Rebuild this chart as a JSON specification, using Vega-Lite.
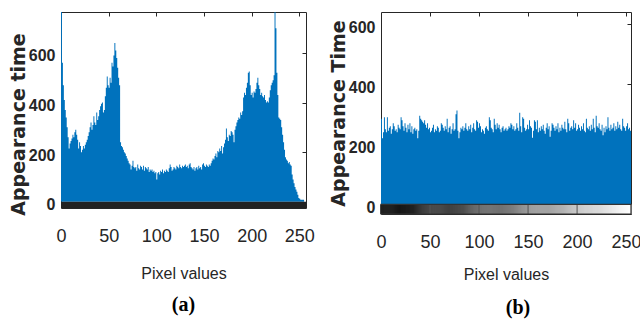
{
  "$schema": "https://vega.github.io/schema/vega-lite/v6.json",
  "background": "white",
  "padding": {"left": 8, "top": 11, "right": 5, "bottom": 5},
  "bounds": "flush",
  "spacing": 75,
  "config": {
    "view": {"stroke": "#262626", "strokeWidth": 1},
    "font": "Liberation Sans, Arial, sans-serif",
    "axis": {"labelColor": "#262626", "titleColor": "#262626", "grid": false, "domain": false}
  },
  "datasets": {
    "a": [
      {"pixel":0,"count":765},{"pixel":1,"count":560},{"pixel":2,"count":470},{"pixel":3,"count":410},{"pixel":4,"count":370},{"pixel":5,"count":340},{"pixel":6,"count":300},{"pixel":7,"count":260},{"pixel":8,"count":215},{"pixel":9,"count":235},
      {"pixel":10,"count":245},{"pixel":11,"count":255},{"pixel":12,"count":270},{"pixel":13,"count":260},{"pixel":14,"count":280},{"pixel":15,"count":290},{"pixel":16,"count":270},{"pixel":17,"count":250},{"pixel":18,"count":215},{"pixel":19,"count":240},
      {"pixel":20,"count":225},{"pixel":21,"count":200},{"pixel":22,"count":210},{"pixel":23,"count":225},{"pixel":24,"count":215},{"pixel":25,"count":230},{"pixel":26,"count":240},{"pixel":27,"count":250},{"pixel":28,"count":265},{"pixel":29,"count":280},
      {"pixel":30,"count":300},{"pixel":31,"count":320},{"pixel":32,"count":290},{"pixel":33,"count":310},{"pixel":34,"count":345},{"pixel":35,"count":320},{"pixel":36,"count":310},{"pixel":37,"count":360},{"pixel":38,"count":330},{"pixel":39,"count":345},
      {"pixel":40,"count":370},{"pixel":41,"count":385},{"pixel":42,"count":395},{"pixel":43,"count":400},{"pixel":44,"count":360},{"pixel":45,"count":370},{"pixel":46,"count":425},{"pixel":47,"count":460},{"pixel":48,"count":505},{"pixel":49,"count":470},
      {"pixel":50,"count":460},{"pixel":51,"count":500},{"pixel":52,"count":480},{"pixel":53,"count":560},{"pixel":54,"count":545},{"pixel":55,"count":590},{"pixel":56,"count":640},{"pixel":57,"count":610},{"pixel":58,"count":580},{"pixel":59,"count":540},
      {"pixel":60,"count":500},{"pixel":61,"count":470},{"pixel":62,"count":240},{"pixel":63,"count":225},{"pixel":64,"count":220},{"pixel":65,"count":210},{"pixel":66,"count":200},{"pixel":67,"count":195},{"pixel":68,"count":185},{"pixel":69,"count":175},
      {"pixel":70,"count":165},{"pixel":71,"count":155},{"pixel":72,"count":150},{"pixel":73,"count":130},{"pixel":74,"count":145},{"pixel":75,"count":165},{"pixel":76,"count":140},{"pixel":77,"count":135},{"pixel":78,"count":140},{"pixel":79,"count":125},
      {"pixel":80,"count":150},{"pixel":81,"count":135},{"pixel":82,"count":130},{"pixel":83,"count":145},{"pixel":84,"count":140},{"pixel":85,"count":130},{"pixel":86,"count":145},{"pixel":87,"count":125},{"pixel":88,"count":140},{"pixel":89,"count":135},
      {"pixel":90,"count":130},{"pixel":91,"count":140},{"pixel":92,"count":120},{"pixel":93,"count":130},{"pixel":94,"count":125},{"pixel":95,"count":130},{"pixel":96,"count":120},{"pixel":97,"count":125},{"pixel":98,"count":115},{"pixel":99,"count":120},
      {"pixel":100,"count":90},{"pixel":101,"count":115},{"pixel":102,"count":120},{"pixel":103,"count":110},{"pixel":104,"count":125},{"pixel":105,"count":120},{"pixel":106,"count":130},{"pixel":107,"count":115},{"pixel":108,"count":125},{"pixel":109,"count":120},
      {"pixel":110,"count":130},{"pixel":111,"count":125},{"pixel":112,"count":120},{"pixel":113,"count":135},{"pixel":114,"count":150},{"pixel":115,"count":140},{"pixel":116,"count":125},{"pixel":117,"count":130},{"pixel":118,"count":140},{"pixel":119,"count":135},
      {"pixel":120,"count":130},{"pixel":121,"count":145},{"pixel":122,"count":140},{"pixel":123,"count":135},{"pixel":124,"count":150},{"pixel":125,"count":140},{"pixel":126,"count":135},{"pixel":127,"count":145},{"pixel":128,"count":140},{"pixel":129,"count":145},
      {"pixel":130,"count":150},{"pixel":131,"count":140},{"pixel":132,"count":145},{"pixel":133,"count":135},{"pixel":134,"count":150},{"pixel":135,"count":155},{"pixel":136,"count":140},{"pixel":137,"count":135},{"pixel":138,"count":130},{"pixel":139,"count":140},
      {"pixel":140,"count":125},{"pixel":141,"count":135},{"pixel":142,"count":140},{"pixel":143,"count":130},{"pixel":144,"count":145},{"pixel":145,"count":135},{"pixel":146,"count":140},{"pixel":147,"count":130},{"pixel":148,"count":150},{"pixel":149,"count":155},
      {"pixel":150,"count":145},{"pixel":151,"count":140},{"pixel":152,"count":150},{"pixel":153,"count":145},{"pixel":154,"count":140},{"pixel":155,"count":150},{"pixel":156,"count":145},{"pixel":157,"count":155},{"pixel":158,"count":165},{"pixel":159,"count":175},
      {"pixel":160,"count":170},{"pixel":161,"count":185},{"pixel":162,"count":195},{"pixel":163,"count":180},{"pixel":164,"count":205},{"pixel":165,"count":200},{"pixel":166,"count":215},{"pixel":167,"count":205},{"pixel":168,"count":225},{"pixel":169,"count":195},
      {"pixel":170,"count":220},{"pixel":171,"count":235},{"pixel":172,"count":250},{"pixel":173,"count":295},{"pixel":174,"count":260},{"pixel":175,"count":245},{"pixel":176,"count":270},{"pixel":177,"count":265},{"pixel":178,"count":285},{"pixel":179,"count":280},
      {"pixel":180,"count":270},{"pixel":181,"count":240},{"pixel":182,"count":290},{"pixel":183,"count":305},{"pixel":184,"count":320},{"pixel":185,"count":330},{"pixel":186,"count":340},{"pixel":187,"count":335},{"pixel":188,"count":360},{"pixel":189,"count":350},
      {"pixel":190,"count":365},{"pixel":191,"count":420},{"pixel":192,"count":440},{"pixel":193,"count":430},{"pixel":194,"count":460},{"pixel":195,"count":480},{"pixel":196,"count":520},{"pixel":197,"count":525},{"pixel":198,"count":470},{"pixel":199,"count":430},
      {"pixel":200,"count":440},{"pixel":201,"count":420},{"pixel":202,"count":445},{"pixel":203,"count":440},{"pixel":204,"count":455},{"pixel":205,"count":480},{"pixel":206,"count":500},{"pixel":207,"count":470},{"pixel":208,"count":455},{"pixel":209,"count":430},
      {"pixel":210,"count":440},{"pixel":211,"count":425},{"pixel":212,"count":420},{"pixel":213,"count":430},{"pixel":214,"count":410},{"pixel":215,"count":400},{"pixel":216,"count":405},{"pixel":217,"count":400},{"pixel":218,"count":420},{"pixel":219,"count":450},
      {"pixel":220,"count":470},{"pixel":221,"count":480},{"pixel":222,"count":490},{"pixel":223,"count":510},{"pixel":224,"count":765},{"pixel":225,"count":700},{"pixel":226,"count":520},{"pixel":227,"count":430},{"pixel":228,"count":340},{"pixel":229,"count":335},
      {"pixel":230,"count":330},{"pixel":231,"count":300},{"pixel":232,"count":270},{"pixel":233,"count":240},{"pixel":234,"count":210},{"pixel":235,"count":180},{"pixel":236,"count":170},{"pixel":237,"count":165},{"pixel":238,"count":155},{"pixel":239,"count":160},
      {"pixel":240,"count":150},{"pixel":241,"count":145},{"pixel":242,"count":110},{"pixel":243,"count":90},{"pixel":244,"count":75},{"pixel":245,"count":60},{"pixel":246,"count":50},{"pixel":247,"count":40},{"pixel":248,"count":28},{"pixel":249,"count":15},
      {"pixel":250,"count":12},{"pixel":251,"count":8},{"pixel":252,"count":8},{"pixel":253,"count":8},{"pixel":254,"count":8},{"pixel":255,"count":8}
    ],
    "b": [
      {"pixel":0,"count":285},{"pixel":1,"count":220},{"pixel":2,"count":240},{"pixel":3,"count":290},{"pixel":4,"count":250},{"pixel":5,"count":240},{"pixel":6,"count":290},{"pixel":7,"count":245},{"pixel":8,"count":255},{"pixel":9,"count":260},
      {"pixel":10,"count":235},{"pixel":11,"count":250},{"pixel":12,"count":270},{"pixel":13,"count":260},{"pixel":14,"count":245},{"pixel":15,"count":250},{"pixel":16,"count":240},{"pixel":17,"count":265},{"pixel":18,"count":255},{"pixel":19,"count":250},
      {"pixel":20,"count":290},{"pixel":21,"count":280},{"pixel":22,"count":260},{"pixel":23,"count":245},{"pixel":24,"count":270},{"pixel":25,"count":255},{"pixel":26,"count":240},{"pixel":27,"count":265},{"pixel":28,"count":250},{"pixel":29,"count":270},
      {"pixel":30,"count":240},{"pixel":31,"count":260},{"pixel":32,"count":235},{"pixel":33,"count":250},{"pixel":34,"count":255},{"pixel":35,"count":245},{"pixel":36,"count":250},{"pixel":37,"count":220},{"pixel":38,"count":245},{"pixel":39,"count":295},
      {"pixel":40,"count":285},{"pixel":41,"count":280},{"pixel":42,"count":275},{"pixel":43,"count":270},{"pixel":44,"count":280},{"pixel":45,"count":265},{"pixel":46,"count":255},{"pixel":47,"count":270},{"pixel":48,"count":250},{"pixel":49,"count":255},
      {"pixel":50,"count":240},{"pixel":51,"count":245},{"pixel":52,"count":255},{"pixel":53,"count":265},{"pixel":54,"count":240},{"pixel":55,"count":250},{"pixel":56,"count":245},{"pixel":57,"count":260},{"pixel":58,"count":255},{"pixel":59,"count":240},
      {"pixel":60,"count":245},{"pixel":61,"count":270},{"pixel":62,"count":265},{"pixel":63,"count":255},{"pixel":64,"count":245},{"pixel":65,"count":260},{"pixel":66,"count":250},{"pixel":67,"count":285},{"pixel":68,"count":240},{"pixel":69,"count":255},
      {"pixel":70,"count":260},{"pixel":71,"count":235},{"pixel":72,"count":250},{"pixel":73,"count":270},{"pixel":74,"count":245},{"pixel":75,"count":250},{"pixel":76,"count":300},{"pixel":77,"count":312},{"pixel":78,"count":245},{"pixel":79,"count":220},
      {"pixel":80,"count":240},{"pixel":81,"count":255},{"pixel":82,"count":250},{"pixel":83,"count":260},{"pixel":84,"count":245},{"pixel":85,"count":255},{"pixel":86,"count":270},{"pixel":87,"count":250},{"pixel":88,"count":245},{"pixel":89,"count":260},
      {"pixel":90,"count":250},{"pixel":91,"count":265},{"pixel":92,"count":240},{"pixel":93,"count":255},{"pixel":94,"count":270},{"pixel":95,"count":250},{"pixel":96,"count":245},{"pixel":97,"count":280},{"pixel":98,"count":275},{"pixel":99,"count":255},
      {"pixel":100,"count":270},{"pixel":101,"count":260},{"pixel":102,"count":240},{"pixel":103,"count":250},{"pixel":104,"count":245},{"pixel":105,"count":235},{"pixel":106,"count":255},{"pixel":107,"count":260},{"pixel":108,"count":250},{"pixel":109,"count":245},
      {"pixel":110,"count":290},{"pixel":111,"count":280},{"pixel":112,"count":255},{"pixel":113,"count":250},{"pixel":114,"count":240},{"pixel":115,"count":285},{"pixel":116,"count":265},{"pixel":117,"count":250},{"pixel":118,"count":270},{"pixel":119,"count":255},
      {"pixel":120,"count":265},{"pixel":121,"count":250},{"pixel":122,"count":240},{"pixel":123,"count":255},{"pixel":124,"count":260},{"pixel":125,"count":245},{"pixel":126,"count":250},{"pixel":127,"count":255},{"pixel":128,"count":245},{"pixel":129,"count":250},
      {"pixel":130,"count":260},{"pixel":131,"count":255},{"pixel":132,"count":270},{"pixel":133,"count":265},{"pixel":134,"count":250},{"pixel":135,"count":260},{"pixel":136,"count":245},{"pixel":137,"count":250},{"pixel":138,"count":270},{"pixel":139,"count":255},
      {"pixel":140,"count":245},{"pixel":141,"count":305},{"pixel":142,"count":260},{"pixel":143,"count":240},{"pixel":144,"count":290},{"pixel":145,"count":285},{"pixel":146,"count":255},{"pixel":147,"count":245},{"pixel":148,"count":250},{"pixel":149,"count":265},
      {"pixel":150,"count":250},{"pixel":151,"count":280},{"pixel":152,"count":260},{"pixel":153,"count":255},{"pixel":154,"count":222},{"pixel":155,"count":245},{"pixel":156,"count":280},{"pixel":157,"count":275},{"pixel":158,"count":250},{"pixel":159,"count":280},
      {"pixel":160,"count":240},{"pixel":161,"count":255},{"pixel":162,"count":245},{"pixel":163,"count":260},{"pixel":164,"count":250},{"pixel":165,"count":265},{"pixel":166,"count":245},{"pixel":167,"count":235},{"pixel":168,"count":255},{"pixel":169,"count":270},
      {"pixel":170,"count":250},{"pixel":171,"count":260},{"pixel":172,"count":225},{"pixel":173,"count":245},{"pixel":174,"count":270},{"pixel":175,"count":265},{"pixel":176,"count":255},{"pixel":177,"count":245},{"pixel":178,"count":260},{"pixel":179,"count":250},
      {"pixel":180,"count":270},{"pixel":181,"count":240},{"pixel":182,"count":255},{"pixel":183,"count":245},{"pixel":184,"count":265},{"pixel":185,"count":255},{"pixel":186,"count":250},{"pixel":187,"count":275},{"pixel":188,"count":250},{"pixel":189,"count":240},
      {"pixel":190,"count":285},{"pixel":191,"count":270},{"pixel":192,"count":245},{"pixel":193,"count":255},{"pixel":194,"count":260},{"pixel":195,"count":250},{"pixel":196,"count":280},{"pixel":197,"count":255},{"pixel":198,"count":270},{"pixel":199,"count":245},
      {"pixel":200,"count":250},{"pixel":201,"count":265},{"pixel":202,"count":255},{"pixel":203,"count":245},{"pixel":204,"count":260},{"pixel":205,"count":250},{"pixel":206,"count":270},{"pixel":207,"count":245},{"pixel":208,"count":240},{"pixel":209,"count":285},
      {"pixel":210,"count":255},{"pixel":211,"count":250},{"pixel":212,"count":260},{"pixel":213,"count":245},{"pixel":214,"count":265},{"pixel":215,"count":250},{"pixel":216,"count":285},{"pixel":217,"count":255},{"pixel":218,"count":240},{"pixel":219,"count":295},
      {"pixel":220,"count":260},{"pixel":221,"count":255},{"pixel":222,"count":270},{"pixel":223,"count":250},{"pixel":224,"count":245},{"pixel":225,"count":265},{"pixel":226,"count":230},{"pixel":227,"count":255},{"pixel":228,"count":240},{"pixel":229,"count":260},
      {"pixel":230,"count":250},{"pixel":231,"count":290},{"pixel":232,"count":255},{"pixel":233,"count":245},{"pixel":234,"count":265},{"pixel":235,"count":250},{"pixel":236,"count":255},{"pixel":237,"count":270},{"pixel":238,"count":245},{"pixel":239,"count":260},
      {"pixel":240,"count":250},{"pixel":241,"count":275},{"pixel":242,"count":255},{"pixel":243,"count":265},{"pixel":244,"count":250},{"pixel":245,"count":245},{"pixel":246,"count":285},{"pixel":247,"count":260},{"pixel":248,"count":255},{"pixel":249,"count":245},
      {"pixel":250,"count":260},{"pixel":251,"count":270},{"pixel":252,"count":250},{"pixel":253,"count":255},{"pixel":254,"count":245},{"pixel":255,"count":285}
    ]
  },
  "hconcat": [
    {
      "width": 245,
      "height": 196,
      "title": {"text": "(a)", "orient": "bottom", "font": "Liberation Serif", "fontSize": 20, "fontWeight": "bold", "color": "black", "offset": 14},
      "layer": [
        {
          "data": {"name": "a"},
          "mark": {"type": "area", "interpolate": "step-after", "color": "#0072BD"},
          "encoding": {
            "x": {"field": "pixel", "type": "quantitative", "scale": {"domain": [0, 257], "nice": false, "zero": false},
              "axis": {"orient": "bottom", "values": [0, 50, 100, 150, 200, 250], "ticks": false, "labelPadding": 19, "labelFontSize": 18, "labelFlush": false,
                "title": "Pixel values", "titleFontSize": 16, "titleFontWeight": "normal", "titlePadding": 20}},
            "y": {"field": "count", "type": "quantitative", "scale": {"domain": [-25, 765], "nice": false, "zero": false},
              "axis": {"orient": "left", "values": [0, 200, 400, 600], "ticks": false, "labelPadding": 6, "labelFontSize": 16, "labelFontWeight": "bold", "labelOffset": 3,
                "title": "Appearance time", "titleFont": "DejaVu Sans", "titleFontSize": 19, "titleFontWeight": "bold", "titlePadding": 0, "titleY": 112}},
            "y2": {"datum": 0}
          }
        },
        {
          "data": {"values": [{}]},
          "mark": {"type": "rect", "color": "#222222"},
          "encoding": {
            "x": {"datum": 0, "type": "quantitative", "axis": {"orient": "top", "values": [50, 100, 150, 200, 250], "labels": false, "title": null, "offset": -4, "tickSize": 4, "tickColor": "#262626"}},
            "x2": {"datum": 257},
            "y": {"datum": -25, "type": "quantitative", "axis": {"orient": "right", "values": [200, 400, 600], "labels": false, "title": null, "offset": -4, "tickSize": 4, "tickColor": "#262626"}},
            "y2": {"datum": 0}
          }
        }
      ],
      "resolve": {"axis": {"x": "independent", "y": "independent"}}
    },
    {
      "width": 250,
      "height": 202,
      "title": {"text": "(b)", "orient": "bottom", "font": "Liberation Serif", "fontSize": 20, "fontWeight": "bold", "color": "black", "offset": 16, "dx": 12},
      "layer": [
        {
          "data": {"name": "b"},
          "mark": {"type": "area", "interpolate": "step-after", "color": "#0072BD"},
          "encoding": {
            "x": {"field": "pixel", "type": "quantitative", "scale": {"domain": [0, 255], "nice": false, "zero": false},
              "axis": {"orient": "bottom", "values": [0, 50, 100, 150, 200, 250], "ticks": false, "labelPadding": 19, "labelFontSize": 18, "labelFlush": false,
                "title": "Pixel values", "titleFontSize": 16, "titleFontWeight": "normal", "titlePadding": 15}},
            "y": {"field": "count", "type": "quantitative", "scale": {"domain": [-32, 640], "nice": false, "zero": false},
              "axis": {"orient": "left", "values": [0, 200, 400, 600], "ticks": false, "labelPadding": 6, "labelFontSize": 16, "labelFontWeight": "bold", "labelOffset": 3,
                "title": "Appearance Time", "titleFont": "DejaVu Sans", "titleFontSize": 19, "titleFontWeight": "bold", "titlePadding": 0}},
            "y2": {"datum": 0}
          }
        },
        {
          "data": {"name": "b"},
          "mark": {"type": "rule", "strokeWidth": 1.3},
          "encoding": {
            "x": {"field": "pixel", "type": "quantitative", "axis": null},
            "y": {"datum": -32, "type": "quantitative", "axis": null},
            "y2": {"datum": 0},
            "color": {"field": "pixel", "type": "quantitative", "scale": {"domain": [0, 255], "range": ["#000000", "#ffffff"]}, "legend": null}
          }
        },
        {
          "data": {"values": [{"pixel": 50}, {"pixel": 100}, {"pixel": 150}, {"pixel": 200}]},
          "mark": {"type": "rule", "color": "#555555", "strokeWidth": 1},
          "encoding": {
            "x": {"field": "pixel", "type": "quantitative", "axis": null},
            "y": {"datum": -32, "type": "quantitative", "axis": null},
            "y2": {"datum": 0}
          }
        },
        {
          "data": {"values": [{}]},
          "mark": {"type": "rect", "fillOpacity": 0, "stroke": "#333333", "strokeWidth": 1.2},
          "encoding": {
            "x": {"datum": 0, "type": "quantitative", "axis": {"orient": "top", "values": [50, 100, 150, 200, 250], "labels": false, "title": null, "offset": -4, "tickSize": 4, "tickColor": "#262626"}},
            "x2": {"datum": 255},
            "y": {"datum": -32, "type": "quantitative", "axis": {"orient": "right", "values": [200, 400, 600], "labels": false, "title": null, "offset": -4, "tickSize": 4, "tickColor": "#262626"}},
            "y2": {"datum": 0}
          }
        }
      ],
      "resolve": {"axis": {"x": "independent", "y": "independent"}}
    }
  ]
}
